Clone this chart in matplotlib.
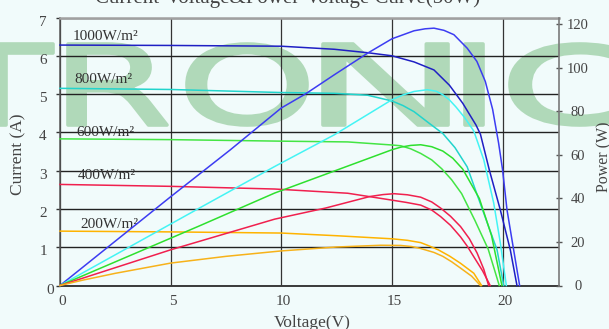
import matplotlib
matplotlib.use("Agg")
import matplotlib.pyplot as plt
from matplotlib.textpath import TextPath
from matplotlib.patches import PathPatch
from matplotlib.font_manager import FontProperties
from matplotlib.transforms import Affine2D, ScaledTranslation

# ---------------- data ----------------
irradiance_labels = ["1000W/m²", "800W/m²", "600W/m²", "400W/m²", "200W/m²"]

V_1000_iv = [0, 5, 10, 12.4, 13.9, 15, 16, 16.9, 17.6, 18.2, 18.8, 19.0, 19.4, 19.9, 20.35, 20.65]
I_1000 = [6.28, 6.27, 6.25, 6.17, 6.08, 6.0, 5.84, 5.63, 5.23, 4.76, 4.19, 3.95, 3.02, 1.97, 0.93, 0]
V_1000_pv = [0, 5, 7.7, 10, 11.1, 12.4, 13.9, 15, 16, 16.5, 16.9, 17.35, 17.8, 18.4, 18.84, 19.22,
             19.55, 19.82, 20.0, 20.2, 20.5, 20.77]
P_1000 = [0, 40.8, 62.4, 81.6, 88.1, 96.9, 106.8, 113.4, 117.1, 118.0, 118.3, 117.3, 115.3, 109.1,
          103.0, 93.8, 81.0, 65.5, 53.2, 34.8, 16.4, 0]

V_800_iv = [0, 5, 10, 12.4, 13.9, 15, 15.5, 16, 16.7, 17.3, 17.85, 18.4, 19.1, 19.75, 20.05]
I_800 = [5.15, 5.12, 5.04, 5.02, 4.97, 4.82, 4.70, 4.54, 4.23, 3.97, 3.60, 3.10, 1.97, 0.93, 0]
V_800_pv = [0, 6.3, 9.7, 12.4, 15, 15.5, 16, 16.6, 17.0, 17.3, 17.6, 17.9, 18.3, 18.7, 19.15,
            19.6, 19.9, 20.17]
P_800 = [0, 35.6, 54.7, 69.3, 85.4, 87.6, 89.2, 90.0, 89.3, 87.7, 85.3, 82.0, 77.0, 71.0, 57.8,
         37.9, 19.5, 0]

V_600_iv = [0, 5, 10, 13, 15, 15.4, 15.85, 16.3, 16.8, 17.25, 17.7, 18.15, 18.75, 19.35, 19.85]
I_600 = [3.83, 3.81, 3.77, 3.75, 3.67, 3.65, 3.57, 3.45, 3.28, 3.05, 2.76, 2.40, 1.70, 0.95, 0]
V_600_pv = [0, 6.3, 9.7, 15, 15.4, 15.85, 16.3, 16.8, 17.3, 17.75, 18.2, 18.95, 19.5, 19.97]
P_600 = [0, 27.4, 42.5, 62.4, 63.6, 64.4, 64.7, 63.8, 61.8, 58.5, 53.5, 40.0, 23.0, 0]

V_400_iv = [0, 5, 9.7, 13, 15, 15.65, 16.3, 16.8, 17.2, 17.65, 18.1, 18.4, 18.7, 19.1, 19.44]
I_400 = [2.64, 2.59, 2.52, 2.41, 2.23, 2.17, 2.10, 1.97, 1.80, 1.57, 1.27, 1.03, 0.75, 0.38, 0]
V_400_pv = [0, 5, 9.7, 12, 14, 14.6, 15.1, 15.7, 16.3, 16.8, 17.2, 17.65, 18.1, 18.5, 18.85,
            19.15, 19.37]
P_400 = [0, 16.4, 30.5, 35.6, 40.9, 41.8, 42.2, 41.7, 40.6, 38.4, 35.6, 31.8, 27.1, 21.5, 14.9,
         7.5, 0]

V_200_iv = [0, 5, 10, 12.5, 15, 15.7, 16.3, 16.7, 17.1, 17.6, 18.1, 18.7, 19.05]
I_200 = [1.42, 1.40, 1.37, 1.30, 1.22, 1.18, 1.12, 1.03, 0.93, 0.77, 0.58, 0.32, 0]
V_200_pv = [0, 1, 2.5, 5, 7.5, 10, 12.5, 14.5, 15.4, 15.9, 16.3, 16.9, 17.3, 17.7, 18.1, 18.6, 19.0]
P_200 = [0, 2.4, 5.6, 10.3, 13.4, 15.9, 17.7, 18.5, 18.4, 17.9, 17.0, 15.2, 13.4, 10.9, 8.0, 4.3, 0]

x_ticks = [0, 5, 10, 15, 20]
y_ticks_current = [0, 1, 2, 3, 4, 5, 6, 7]
y_ticks_power = [0, 20, 40, 60, 80, 100, 120]

# ---------------- styling ----------------
W, H = 609, 329
BG = "#f1fbfb"
SERIF = ["Liberation Serif", "DejaVu Serif"]
plt.rcParams["font.family"] = SERIF

fig = plt.figure(figsize=(W / 100, H / 100), dpi=100, facecolor=BG)

# watermark letters (decoration)
wm_letters = [("T", -59, 53), ("R", 68, 167), ("O", 187, 307), ("N", 323, 448),
              ("I", 465, 483), ("C", 510, 625)]
wm_top, wm_bot = 44, 125
fp = FontProperties(family="DejaVu Sans", weight="normal")
to_fig = Affine2D().scale(1 / W, 1 / H) + fig.transFigure
for ch, x0, x1 in wm_letters:
    tp = TextPath((0, 0), ch, size=100, prop=fp)
    ext = tp.get_extents()
    tr = (Affine2D().translate(-ext.x0, -ext.y0)
          .scale((x1 - x0) / ext.width, (wm_bot - wm_top) / ext.height)
          .translate(x0, H - wm_bot))
    patch = PathPatch(tr.transform_path(tp), fc="#b0d9b9", ec="#b0d9b9", lw=2.6,
                      joinstyle="round", transform=to_fig, zorder=-5)
    fig.add_artist(patch)

left, right = 60 / W, 559 / W
bottom, top = (H - 285.5) / H, (H - 17.5) / H
ax = fig.add_axes([left, bottom, right - left, top - bottom])
ax.set_facecolor("none")
ax2 = ax.twinx()
ax2.set_facecolor("none")

ax.set_xlim(0, 22.55)
ax.set_ylim(0, 7)
ax2.set_ylim(0, 123.2)

# grid
ax.set_xticks(x_ticks)
ax.set_yticks(y_ticks_current)
ax.grid(True, axis="y", color="#222222", lw=1.0)
ax.grid(True, axis="x", color="#333333", lw=0.9)
ax.set_axisbelow(True)

iv_colors = ["#1f1fc4", "#22d4cc", "#44e544", "#f0204e", "#ffb300"]
pv_colors = ["#3c3cf2", "#44f4f4", "#2ee02e", "#f0204e", "#f7b21a"]
iv_sets = [(V_1000_iv, I_1000), (V_800_iv, I_800), (V_600_iv, I_600),
           (V_400_iv, I_400), (V_200_iv, I_200)]
pv_sets = [(V_1000_pv, P_1000), (V_800_pv, P_800), (V_600_pv, P_600),
           (V_400_pv, P_400), (V_200_pv, P_200)]

for (v, i), c in zip(iv_sets, iv_colors):
    ax.plot(v, i, color=c, lw=1.1, solid_joinstyle="round", clip_on=False, zorder=3)
for (v, p), c in zip(pv_sets, pv_colors):
    ax2.plot(v, p, color=c, lw=1.1, solid_joinstyle="round", clip_on=False, zorder=3)

# curve labels
label_pos = [(0.57, 6.51), (0.66, 5.37), (0.75, 3.99), (0.78, 2.87), (0.94, 1.60)]
for txt, (lx, ly) in zip(irradiance_labels, label_pos):
    ax.text(lx, ly, txt, ha="left", va="center", fontsize=11, color="#333333", zorder=4)

# spines
ax.spines["top"].set_color("#a0a0a0")
ax.spines["top"].set_linewidth(1.8)
ax.spines["bottom"].set_color("#3a3a3a")
ax.spines["bottom"].set_linewidth(1.4)
ax.spines["left"].set_color("#555555")
ax.spines["left"].set_linewidth(1.1)
ax.spines["right"].set_visible(False)
for s in ["top", "bottom", "left"]:
    ax2.spines[s].set_visible(False)
ax2.spines["right"].set_color("#7a7a7a")
ax2.spines["right"].set_linewidth(1.2)

# ticks
ax.tick_params(axis="x", length=0, pad=7, labelsize=11, labelcolor="#444444")
ax.tick_params(axis="y", direction="out", length=3, width=1.0, color="#333333",
               pad=6.5, labelsize=11, labelcolor="#444444")
ax2.set_yticks(y_ticks_power)
ax2.tick_params(axis="y", direction="inout", length=4.3, width=1.0, color="#555555",
                pad=11.5, labelsize=10.5, labelcolor="#444444")
for lbl in ax2.get_yticklabels():
    lbl.set_horizontalalignment("center")

down = ScaledTranslation(0, -0.03, fig.dpi_scale_trans)
ylbls = ax.get_yticklabels()
for k, lbl in enumerate(ylbls):
    if k == 0:
        lbl.set_transform(lbl.get_transform() + ScaledTranslation(0.07, -0.03, fig.dpi_scale_trans))
    else:
        lbl.set_transform(lbl.get_transform() + down)
for lbl in ax.get_xticklabels():
    lbl.set_transform(lbl.get_transform() + ScaledTranslation(0.025, 0, fig.dpi_scale_trans))

# axis titles (partly cut by the figure edge, as in the reference)
fig.text(312.6 / W, (H - 327) / H, "Voltage(V)", ha="center", va="baseline",
         fontsize=12.5, color="#444444")
fig.text(18.3 / W, (H - 154) / H, "Current (A)", ha="center", va="center",
         rotation=90, fontsize=12.5, color="#444444")
fig.text(604 / W, (H - 157) / H, "Power (W)", ha="center", va="center",
         rotation=90, fontsize=11.5, color="#444444")
fig.text(287.5 / W, (H - 3) / H, "Current-Voltage&Power-Voltage Curve(50W)",
         ha="center", va="baseline", fontsize=15, color="#444444")

fig.savefig("out.png", dpi=100, facecolor=BG)
